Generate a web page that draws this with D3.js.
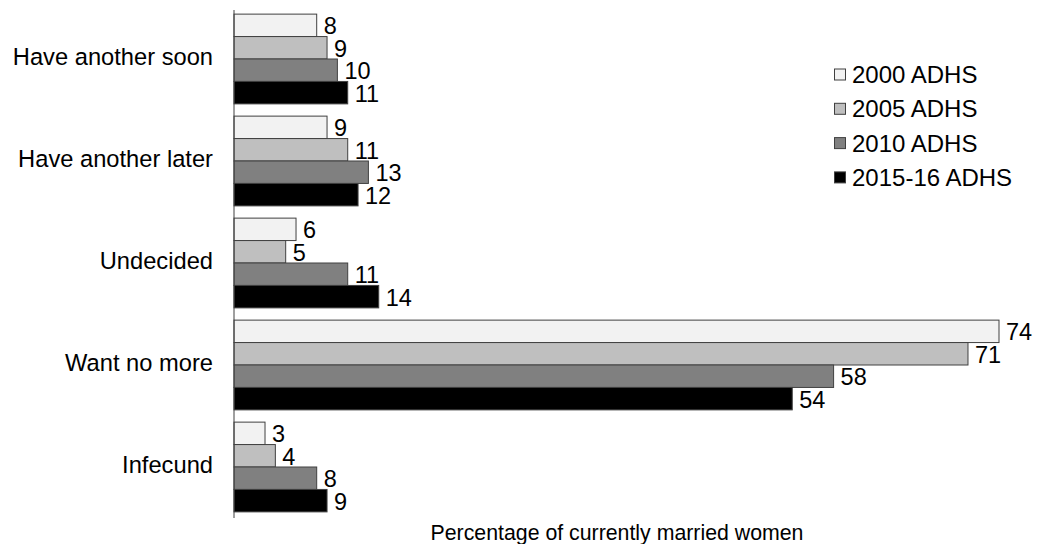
<!DOCTYPE html>
<html><head><meta charset="utf-8">
<script src="https://cdn.jsdelivr.net/npm/d3@7"></script>
<style>body{margin:0;background:#fff}text{font-family:"Liberation Sans",Arial,sans-serif;fill:#000}</style>
</head><body><svg id="c" width="1037" height="544"></svg>
<script>
const categories = ["Have another soon","Have another later","Undecided","Want no more","Infecund"];
const seriesNames = ["2000 ADHS","2005 ADHS","2010 ADHS","2015-16 ADHS"];
const v2000 = [8, 9, 6, 74, 3];
const v2005 = [9, 11, 5, 71, 4];
const v2010 = [10, 13, 11, 58, 8];
const v2015 = [11, 12, 14, 54, 9];
const colors = ["#f2f2f2","#bfbfbf","#808080","#000000"];
const series = [v2000, v2005, v2010, v2015];

const svg = d3.select("#c");
const x = d3.scaleLinear().domain([0, 74]).range([234, 999]);
const y = d3.scaleBand().domain(categories).range([8, 518]).paddingInner(0.12).paddingOuter(0.06);
const y1 = d3.scaleBand().domain(d3.range(4)).range([0, y.bandwidth()]);

const g = svg.append("g");
categories.forEach((c, ci) => {
  series.forEach((s, si) => {
    const by = y(c) + y1(si);
    g.append("rect").attr("x", x(0)).attr("y", by)
      .attr("width", x(s[ci]) - x(0)).attr("height", y1.bandwidth())
      .attr("fill", colors[si]).attr("stroke", "#404040").attr("stroke-width", 1);
    g.append("text").attr("x", x(s[ci]) + 7).attr("y", by + y1.bandwidth()/2 + 0.5)
      .attr("dy", "0.36em").attr("font-size", 23.5).text(s[ci]);
  });
  svg.append("text").attr("x", 213).attr("y", y(c) + y.bandwidth()/2 - 3)
    .attr("dy", "0.36em").attr("text-anchor", "end").attr("font-size", 23.7).text(c);
});

svg.append("line").attr("x1", x(0)).attr("x2", x(0)).attr("y1", 10).attr("y2", 518)
  .attr("stroke", "#404040").attr("stroke-width", 1);

svg.append("text").attr("x", 617).attr("y", 540).attr("text-anchor", "middle")
  .attr("font-size", 21.3).text("Percentage of currently married women");

const leg = svg.append("g");
seriesNames.forEach((n, i) => {
  const ly = 74.5 + i * 34.3;
  leg.append("rect").attr("x", 834.5).attr("y", ly - 5.5).attr("width", 11).attr("height", 11)
    .attr("fill", colors[i]).attr("stroke", "#404040");
  leg.append("text").attr("x", 852).attr("y", ly).attr("dy", "0.36em").attr("font-size", 24).text(n);
});
</script></body></html>
